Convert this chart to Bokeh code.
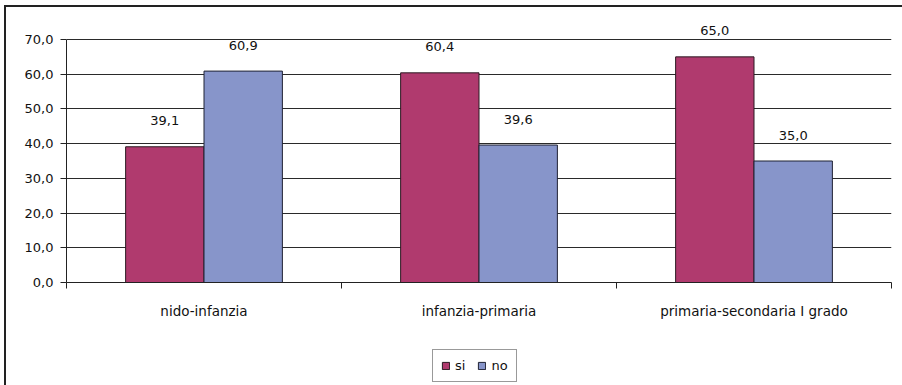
from bokeh.plotting import figure
from bokeh.layouts import column
from bokeh.models import (ColumnDataSource, FixedTicker, LabelSet, Legend,
                          LegendItem, Range1d)
from bokeh.core.properties import value
from bokeh.transform import dodge
from bokeh.embed import file_html
from bokeh.resources import INLINE

# Survey results (percent) per school transition
categories = ["nido-infanzia", "infanzia-primaria", "primaria-secondaria I grado"]
si = [39.1, 60.4, 65.0]
no = [60.9, 39.6, 35.0]
y_ticks = [0, 10, 20, 30, 40, 50, 60, 70]

SI_COLOR = "#B03A6E"
NO_COLOR = "#8795CA"
SI_EDGE = "#2a1a22"
NO_EDGE = "#1f2233"
FONT = "DejaVu Sans"
FS = "13px"
INK = "#111111"


def fmt(v):
    return f"{v:.1f}".replace(".", ",")


centers = [i + 0.5 for i in range(len(categories))]
src = ColumnDataSource(dict(
    x=centers, si=si, no=no,
    si_lab=[fmt(v) for v in si], no_lab=[fmt(v) for v in no],
))

# headroom above 70 so the value labels stay inside the frame
p = figure(width=896, height=330, output_backend="svg", toolbar_location=None,
           x_range=Range1d(0, len(categories)), y_range=Range1d(0, 76.63),
           min_border_left=60, min_border_right=11, min_border_top=9,
           min_border_bottom=55)
p.outline_line_color = None

bar_w = 0.285
p.vbar(x=dodge("x", -bar_w / 2), top="si", width=bar_w, source=src,
       fill_color=SI_COLOR, line_color=SI_EDGE, line_width=1)
p.vbar(x=dodge("x", bar_w / 2), top="no", width=bar_w, source=src,
       fill_color=NO_COLOR, line_color=NO_EDGE, line_width=1)

for col, lab, off in (("si", "si_lab", -bar_w / 2), ("no", "no_lab", bar_w / 2)):
    p.add_layout(LabelSet(x=dodge("x", off), y=col, text=lab, source=src,
                          text_align="center", text_baseline="middle",
                          y_offset=26, text_font=value(FONT),
                          text_font_size=FS, text_color=INK))

# y axis
p.yaxis.ticker = FixedTicker(ticks=y_ticks)
p.yaxis.bounds = (0, 70)
p.yaxis.major_label_overrides = {t: fmt(t) for t in y_ticks}
p.yaxis.major_tick_out = 6
p.yaxis.major_tick_in = 0
p.yaxis.minor_tick_line_color = None
p.yaxis.axis_line_color = "#222222"
p.yaxis.major_tick_line_color = "#222222"
p.yaxis.major_label_text_font = FONT
p.yaxis.major_label_text_font_size = FS
p.yaxis.major_label_text_color = INK
p.yaxis.major_label_standoff = 7

# x axis: tick marks between groups, labels at group centres
p.xaxis.ticker = FixedTicker(ticks=centers,
                             minor_ticks=list(range(len(categories) + 1)))
p.xaxis.major_label_overrides = {c: name for c, name in zip(centers, categories)}
p.xaxis.major_tick_line_color = None
p.xaxis.major_tick_out = 0
p.xaxis.major_tick_in = 0
p.xaxis.minor_tick_out = 6
p.xaxis.minor_tick_in = 0
p.xaxis.minor_tick_line_color = "#222222"
p.xaxis.axis_line_color = "#222222"
p.xaxis.major_label_text_font = FONT
p.xaxis.major_label_text_font_size = "13.5px"
p.xaxis.major_label_text_color = INK
p.xaxis.major_label_standoff = 14

p.xgrid.grid_line_color = None
p.ygrid.ticker = FixedTicker(ticks=y_ticks)
p.ygrid.grid_line_color = "#2a2a2a"
p.ygrid.grid_line_width = 1

# legend strip below the chart; its key renderers are hidden, only swatches show
lf = figure(width=896, height=48, output_backend="svg", toolbar_location=None,
            x_axis_type=None, y_axis_type=None,
            min_border_left=0, min_border_right=0, min_border_top=0,
            min_border_bottom=0,
            x_range=Range1d(0, len(categories)), y_range=Range1d(0, 70))
lf.outline_line_color = None
lf.xgrid.grid_line_color = None
lf.ygrid.grid_line_color = None
k_si = lf.vbar(x="x", top="si", width=bar_w, source=src,
               fill_color=SI_COLOR, line_color=SI_EDGE)
k_no = lf.vbar(x="x", top="no", width=bar_w, source=src,
               fill_color=NO_COLOR, line_color=NO_EDGE)
k_si.visible = False
k_no.visible = False
legend = Legend(items=[LegendItem(label="si", renderers=[k_si]),
                       LegendItem(label="no", renderers=[k_no])],
                orientation="horizontal", location=(366, 3),
                label_text_font=FONT, label_text_font_size=FS,
                label_text_color=INK,
                glyph_width=9, glyph_height=9, label_standoff=5, spacing=12,
                padding=8, margin=0, border_line_color="#333333",
                border_line_width=1, label_height=14, label_width=0,
                inactive_fill_alpha=0)
lf.add_layout(legend)

page = column(p, lf, spacing=0, margin=(5, 0, 0, 4),
              styles={"border-left": "2px solid #222222",
                      "border-top": "2px solid #222222"})

open("out.html", "w").write(file_html(page, INLINE))
